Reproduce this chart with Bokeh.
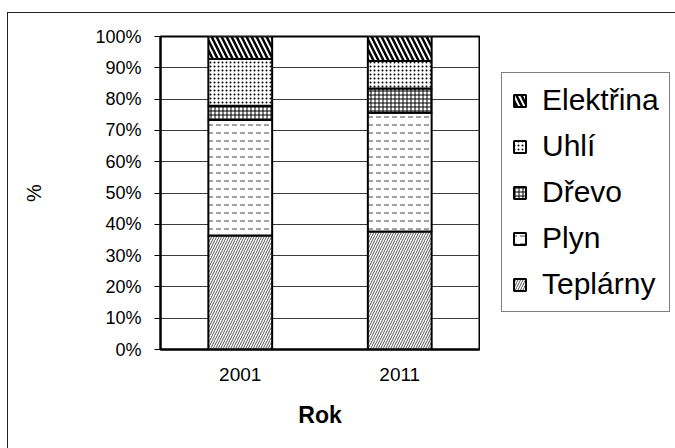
from bokeh.plotting import figure
from bokeh.layouts import row
from bokeh.models import (ColumnDataSource, Legend, LegendItem, FixedTicker,
                          PrintfTickFormatter, InlineStyleSheet, Range1d)
from bokeh.embed import file_html
from bokeh.resources import INLINE

# Share of heating sources by census year (%)
years = ["2001", "2011"]
teplarny = [36.4, 37.7]
plyn = [36.9, 37.9]
drevo = [4.6, 7.8]
uhli = [14.9, 8.8]
elektrina = [7.2, 7.8]

series_keys = ["teplarny", "plyn", "drevo", "uhli", "elektrina"]
series_labels = ["Teplárny", "Plyn", "Dřevo", "Uhlí", "Elektřina"]
y_ticks = [0, 10, 20, 30, 40, 50, 60, 70, 80, 90, 100]

source = ColumnDataSource(dict(rok=years, teplarny=teplarny, plyn=plyn,
                               drevo=drevo, uhli=uhli, elektrina=elektrina))

FONT = "Liberation Sans"

# monochrome hatch fills, one per heating source
bar_style = dict(
    fill_color="white", line_color="black", line_width=2,
    hatch_pattern=["right_diagonal_line", "horizontal_dash", "cross", "dot",
                   "left_diagonal_line"],
    hatch_color=["#555555", "#444444", "black", "black", "black"],
    hatch_scale=[5, 8, 4, 4, 10],
    hatch_weight=[1, 1, 1, 3.5, 2.5],
)

# thin border around the whole chart area
chart_border = InlineStyleSheet(css="""
:host { position: relative; }
:host::after {
  content: ""; position: absolute; left: 7px; top: 12px;
  width: 1000px; height: 1000px; pointer-events: none;
  border-left: 1px solid #222; border-top: 1px solid #222;
}
""")

p = figure(width=480, height=448, x_range=years, y_range=(0, 100),
           output_backend="svg", toolbar_location=None,
           min_border_left=160, min_border_right=1,
           min_border_top=36, min_border_bottom=99,
           background_fill_color="white", border_fill_color="white")

p.vbar_stack(series_keys, x="rok", width=0.4, source=source, **bar_style)

# frame and grid
p.outline_line_color = "black"
p.outline_line_width = 2
p.xgrid.grid_line_color = None
p.ygrid.grid_line_color = "#3a3a3a"
p.ygrid.grid_line_width = 1.2

# y axis
p.yaxis.ticker = FixedTicker(ticks=y_ticks)
p.yaxis.formatter = PrintfTickFormatter(format="%d%%")
p.yaxis.axis_line_color = "black"
p.yaxis.axis_line_width = 2
p.yaxis.major_tick_out = 6
p.yaxis.major_tick_in = 0
p.yaxis.minor_tick_line_color = None
p.yaxis.major_label_standoff = 13
p.yaxis.major_label_text_font = FONT
p.yaxis.major_label_text_font_size = "18px"
p.yaxis.major_label_text_color = "black"
p.yaxis.axis_label = "%"
p.yaxis.axis_label_text_font = FONT
p.yaxis.axis_label_text_font_size = "20px"
p.yaxis.axis_label_text_font_style = "normal"
p.yaxis.axis_label_text_color = "black"
p.yaxis.axis_label_standoff = 47

# x axis
p.xaxis.axis_line_color = "black"
p.xaxis.axis_line_width = 2
p.xaxis.major_tick_out = 0
p.xaxis.major_tick_in = 0
p.xaxis.major_label_standoff = 18
p.xaxis.major_label_text_font = FONT
p.xaxis.major_label_text_font_size = "19px"
p.xaxis.major_label_text_color = "black"
p.xaxis.axis_label = "Rok"
p.xaxis.axis_label_text_font = FONT
p.xaxis.axis_label_text_font_size = "23px"
p.xaxis.axis_label_text_font_style = "bold"
p.xaxis.axis_label_text_color = "black"
p.xaxis.axis_label_standoff = 18

# legend panel to the right of the plot area (its frame aligns with the plot's);
# the stacked bars here only supply the legend keys and sit under the opaque legend box
lp = figure(width=195, height=448, x_range=years, y_range=Range1d(-30, 130),
            x_axis_type=None, y_axis_type=None,
            output_backend="svg", toolbar_location=None,
            min_border=0, outline_line_color=None,
            background_fill_color="white", border_fill_color="white")

keys = lp.vbar_stack(series_keys, x="rok", width=0.4, source=source, **bar_style)
lp.xgrid.grid_line_color = None
lp.ygrid.grid_line_color = None

legend = Legend(
    items=[LegendItem(label=lab, renderers=[r])
           for lab, r in reversed(list(zip(series_labels, keys)))],
    location=(21, 37),
    label_text_font=FONT, label_text_font_size="30px", label_text_color="black",
    label_height=30, glyph_height=15, glyph_width=15,
    label_standoff=15, spacing=12, padding=10, margin=0,
    border_line_color="black", border_line_width=1,
    background_fill_color="white", background_fill_alpha=1,
)
lp.add_layout(legend, "center")

layout = row(p, lp, spacing=0, stylesheets=[chart_border])

open("out.html", "w").write(file_html(layout, INLINE))
